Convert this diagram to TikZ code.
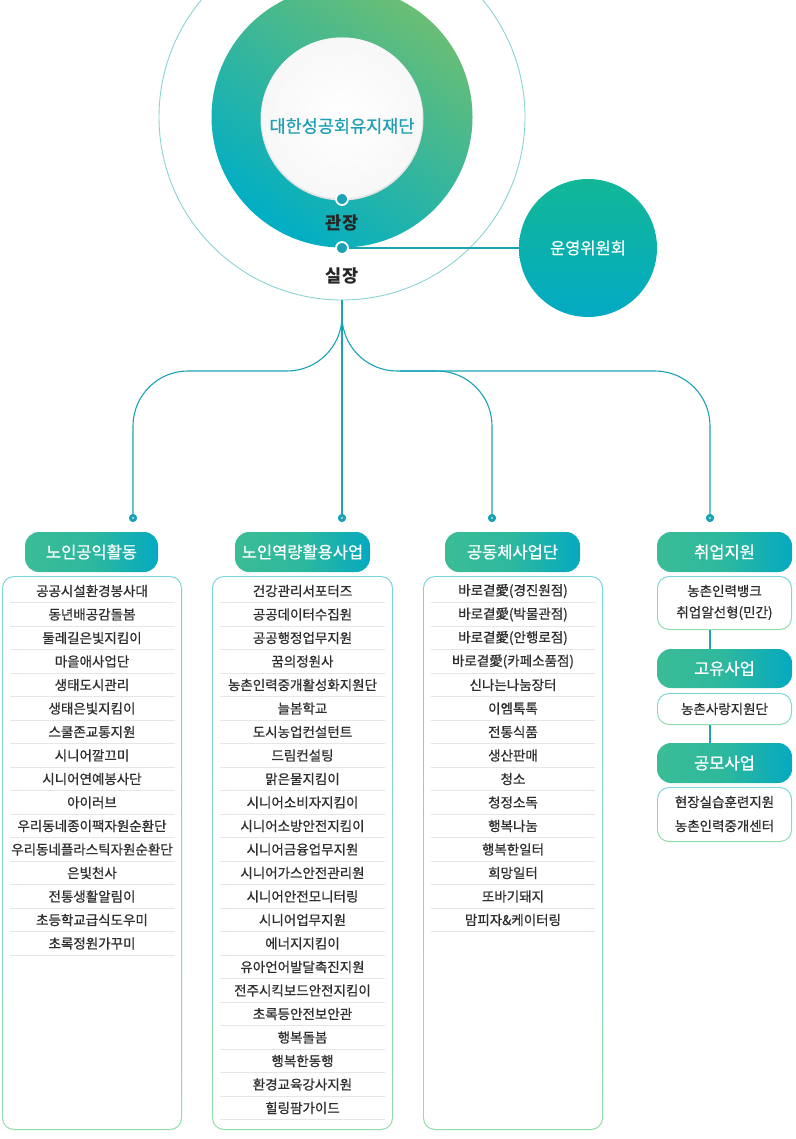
\documentclass[tikz,border=0pt]{standalone}
\usepackage{fontspec}
\setmainfont{Noto Sans CJK KR}
\newfontfamily\medfont{Noto Sans CJK KR}[FakeBold=0.7]
\definecolor{tealc}{HTML}{05A9C0}
\definecolor{greenc}{HTML}{3BBC96}
\definecolor{midc}{HTML}{2DB89E}
\definecolor{linec}{HTML}{1AA3B4}
\definecolor{ringgreen}{HTML}{6ABE74}
\definecolor{ringmid}{HTML}{52C3B6}
\definecolor{ringteal}{HTML}{00AEC5}
\definecolor{titlec}{HTML}{1E9FB4}
\definecolor{txt}{HTML}{2E2E2E}
\definecolor{sepc}{HTML}{E6E6E6}
\definecolor{boxtop}{HTML}{7AD4DE}
\definecolor{boxbot}{HTML}{92DCAA}
\definecolor{outerc}{HTML}{8AD3D3}
\definecolor{cmtop}{HTML}{12B797}
\definecolor{cmbot}{HTML}{03AAC3}
\tikzset{
  conn/.style={draw=linec, line width=1.1pt},
  ringdot/.style={circle, fill=linec, draw=white, line width=1.8pt, inner sep=0pt, minimum size=12pt},
  bdot/.style={circle, fill=linec, inner sep=0pt, minimum size=8pt,
    path picture={\fill[white] (path picture bounding box.center) circle (0.9pt);}},
  role/.style={text=black!85, font=\fontsize{17.5}{17.5}\selectfont\bfseries, inner sep=0pt},
  hdr/.style={rounded corners=14pt, left color=greenc, right color=tealc, middle color=midc,
    text=white, font=\fontsize{16.5}{16.5}\selectfont\medfont, minimum height=40pt, inner sep=0pt},
  listbox/.style={rounded corners=12pt, top color=boxtop, bottom color=boxbot, inner sep=0pt},
  item/.style={text=txt, font=\fontsize{13.5}{13.5}\selectfont\medfont, inner sep=0pt},
  sep/.style={draw=sepc, line width=0.8pt},
}
\newcommand{\innerwhite}[1]{\fill[white, rounded corners=11pt] ([shift={(1.3pt,-1.3pt)}]#1.north west) rectangle ([shift={(-1.3pt,1.3pt)}]#1.south east);}
\begin{document}
\begin{tikzpicture}[x=1pt,y=-1pt]
\useasboundingbox (0,0) rectangle (795,1139);
\clip (0,0) rectangle (795,1139);
% big outer circle
\node[circle, draw=outerc, line width=0.9pt, minimum size=366pt, inner sep=0pt] (outer) at (342,117) {};
% ring
\shade[top color=ringgreen, middle color=ringmid, bottom color=ringteal, shading angle=-35] (342,117) circle[radius=130.5];
% inner white disc
\fill[black!10] (342,119) circle[radius=81.5];
\shade[inner color=white, outer color=black!3] (342,118) circle[radius=80.5];
\node[text=titlec, font=\fontsize{17.5}{17.5}\selectfont\medfont, inner sep=0pt] (found) at (342,126) {대한성공회유지재단};
\node[ringdot] (d1) at (342,199) {};
\node[role] (gj) at (342,223) {관장};
\node[ringdot] (d2) at (342,248) {};
\node[role] (sj) at (342,276) {실장};
% committee
\node[circle, minimum size=138pt, inner sep=0pt, top color=cmtop, bottom color=cmbot, text=white,
  font=\fontsize{16.5}{16.5}\selectfont\medfont] (cm) at (588,248) {운영위원회};
\draw[conn] (d2) -- (cm);
% tree
\coordinate (bar) at (0,371);
\coordinate (j3) at (400,371);
\node[bdot] (p1) at (133,518) {};
\node[bdot] (p2) at (342,518) {};
\node[bdot] (p3) at (492,518) {};
\node[bdot] (p4) at (710,518) {};
\draw[conn, rounded corners=55pt] (outer.south) |- (p1 |- bar) -- (p1);
\draw[conn, rounded corners=55pt] (outer.south) |- (p4 |- bar) -- (p4);
\draw[conn, rounded corners=55pt] (j3) -| (p3);
\draw[conn] (outer.south) -- (p2);
\node[bdot] at (p1) {};
\node[bdot] at (p2) {};
\node[bdot] at (p3) {};
\node[bdot] at (p4) {};
% headers
\node[hdr, minimum width=133pt] (h1) at (91.5,552) {노인공익활동};
\node[hdr, minimum width=135pt] (h2) at (302.5,552) {노인역량활용사업};
\node[hdr, minimum width=135pt] (h3) at (512.5,552) {공동체사업단};
\node[hdr, minimum width=135pt] (h4) at (724.5,552) {취업지원};
% list boxes
\node[listbox, minimum width=180pt, minimum height=554pt] (L1) at (92,853) {};
\innerwhite{L1}
\node[listbox, minimum width=181pt, minimum height=554pt] (L2) at (302.5,853) {};
\innerwhite{L2}
\node[listbox, minimum width=180pt, minimum height=554pt] (L3) at (513,853) {};
\innerwhite{L3}
\foreach \t [count=\i] in {공공시설환경봉사대,동년배공감돌봄,둘레길은빛지킴이,마을애사업단,생태도시관리,생태은빛지킴이,스쿨존교통지원,시니어깔끄미,시니어연예봉사단,아이러브,우리동네종이팩자원순환단,우리동네플라스틱자원순환단,은빛천사,전통생활알림이,초등학교급식도우미,초록정원가꾸미}{
  \node[item] (a\i) at (92,{591+23.5*(\i-1)}) {\t};
  \draw[sep] (10,{602.5+23.5*(\i-1)}) -- (175,{602.5+23.5*(\i-1)});
}
\foreach \t [count=\i] in {건강관리서포터즈,공공데이터수집원,공공행정업무지원,꿈의정원사,농촌인력중개활성화지원단,늘봄학교,도시농업컨설턴트,드림컨설팅,맑은물지킴이,시니어소비자지킴이,시니어소방안전지킴이,시니어금융업무지원,시니어가스안전관리원,시니어안전모니터링,시니어업무지원,에너지지킴이,유아언어발달촉진지원,전주시킥보드안전지킴이,초록등안전보안관,행복돌봄,행복한동행,환경교육강사지원,힐링팜가이드}{
  \node[item] (e\i) at (302.5,{591+23.5*(\i-1)}) {\t};
  \draw[sep] (220,{602.5+23.5*(\i-1)}) -- (385,{602.5+23.5*(\i-1)});
}
\foreach \t [count=\i] in {바로곁愛(경진원점),바로곁愛(박물관점),바로곁愛(안행로점),바로곁愛(카페소품점),신나는나눔장터,이엠톡톡,전통식품,생산판매,청소,청정소독,행복나눔,행복한일터,희망일터,또바기돼지,맘피자\&케이터링}{
  \node[item] (c\i) at (513,{591+23.5*(\i-1)}) {\t};
  \draw[sep] (431,{602.5+23.5*(\i-1)}) -- (595,{602.5+23.5*(\i-1)});
}
% column 4
\node[listbox, minimum width=135pt, minimum height=54pt] (k1) at (724.5,603) {};
\innerwhite{k1}
\node[item] (k1a) at (724.5,591) {농촌인력뱅크};
\node[item] (k1b) at (724.5,613) {취업알선형(민간)};
\node[hdr, minimum width=135pt, minimum height=39pt] (h5) at (724.5,668.5) {고유사업};
\node[listbox, minimum width=135pt, minimum height=32pt] (k2) at (724.5,709) {};
\innerwhite{k2}
\node[item] (k2a) at (724.5,709) {농촌사랑지원단};
\node[hdr, minimum width=135pt] (h6) at (724.5,763) {공모사업};
\node[listbox, minimum width=135pt, minimum height=55pt] (k3) at (724.5,814.5) {};
\innerwhite{k3}
\node[item] (k3a) at (724.5,802) {현장실습훈련지원};
\node[item] (k3b) at (724.5,826) {농촌인력중개센터};
\draw[conn] (p4 |- k1.south) -- (p4 |- h5.north);
\draw[conn] (p4 |- k2.south) -- (p4 |- h6.north);
\end{tikzpicture}
\end{document}
